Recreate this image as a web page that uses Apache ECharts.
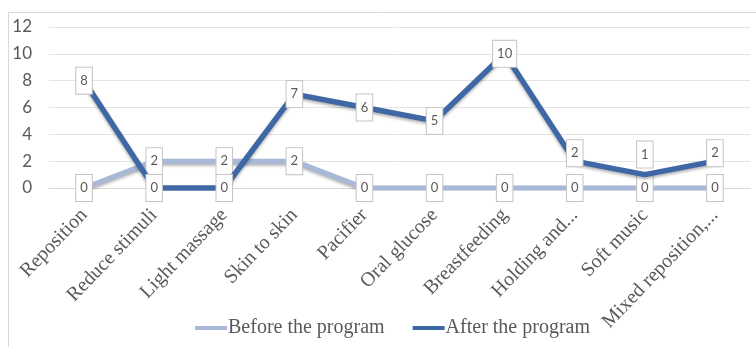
<!doctype html>
<html lang="en">
<head>
  <meta charset="utf-8">
  <title>Before / after the program</title>
  <script src="https://cdn.jsdelivr.net/npm/echarts@6/dist/echarts.min.js"></script>
  <style>
    html, body { margin: 0; padding: 0; background: #fff; }
    #chartmain { width: 756px; height: 347px; }
  </style>
</head>
<body>
<div id="chartmain"></div>
<script>
  var categories = ['Reposition', 'Reduce stimuli', 'Light massage', 'Skin to skin', 'Pacifier',
    'Oral glucose', 'Breastfeeding', 'Holding and...', 'Soft music', 'Mixed reposition,...'];
  var beforeValues = [0, 2, 2, 2, 0, 0, 0, 0, 0, 0];
  var afterValues = [8, 0, 0, 7, 6, 5, 10, 2, 1, 2];
  var yTicks = [0, 2, 4, 6, 8, 10, 12];

  var labelBox = {
    show: true,
    position: 'inside',
    backgroundColor: '#fff',
    borderColor: '#c4c4c4',
    borderWidth: 1,
    padding: [6, 4],
    fontSize: 13,
    lineHeight: 14,
    fontFamily: 'Lato',
    color: '#595959'
  };

  // Soft music label sits above its point in the reference
  function afterData(vals) {
    return vals.map(function (v, i) {
      if (i === 8) return { value: v, label: { offset: [0, -20] } };
      if (i === 7 || i === 9) return { value: v, label: { offset: [0, -8] } };
      return v;
    });
  }

  var myChart = echarts.init(document.getElementById('chartmain'));
  var option = {
    backgroundColor: '#fff',
    animation: false,
    graphic: [{
      type: 'rect',
      shape: { x: 8.5, y: 12.5, width: 800, height: 400 },
      style: { fill: 'none', stroke: '#d9d9d9', lineWidth: 1 },
      silent: true
    }],
    grid: { left: 49, right: 6, top: 27, bottom: 159, containLabel: false },
    legend: {
      top: 313,
      left: 190,
      itemWidth: 32,
      itemHeight: 4,
      itemGap: 28,
      icon: 'rect',
      textStyle: { fontFamily: 'Liberation Serif', fontSize: 20, color: '#595959', padding: [0, 0, 0, -4] },
      data: ['Before the program', 'After the program']
    },
    xAxis: {
      type: 'category',
      data: categories,
      boundaryGap: true,
      axisLine: { lineStyle: { color: '#d9d9d9' } },
      axisTick: { show: false },
      axisLabel: {
        interval: 0,
        rotate: 46,
        margin: 24,
        fontFamily: 'Liberation Serif',
        fontSize: 20,
        color: '#595959'
      }
    },
    yAxis: {
      type: 'value',
      min: yTicks[0],
      max: yTicks[yTicks.length - 1],
      interval: 2,
      axisLine: { show: false },
      axisTick: { show: false },
      splitLine: { lineStyle: { color: '#e4e4e4' } },
      axisLabel: {
        margin: 17,
        fontFamily: 'Lato',
        fontSize: 17,
        color: '#595959'
      }
    },
    series: [
      {
        name: 'Before the program',
        type: 'line',
        data: beforeValues,
        symbol: 'circle',
        symbolSize: 1,
        itemStyle: { color: '#a7b8d9' },
        lineStyle: {
          color: '#a7b8d9', width: 5,
          shadowColor: 'rgba(0,0,0,0.3)', shadowBlur: 3, shadowOffsetY: 2
        },
        label: labelBox,
        z: 2
      },
      {
        name: 'After the program',
        type: 'line',
        data: afterData(afterValues),
        symbol: 'circle',
        symbolSize: 1,
        itemStyle: { color: '#3d68a5' },
        lineStyle: {
          color: '#3d68a5', width: 5.5,
          shadowColor: 'rgba(0,0,0,0.3)', shadowBlur: 3, shadowOffsetY: 2
        },
        label: labelBox,
        z: 3
      }
    ]
  };
  myChart.setOption(option);
</script>
</body>
</html>
